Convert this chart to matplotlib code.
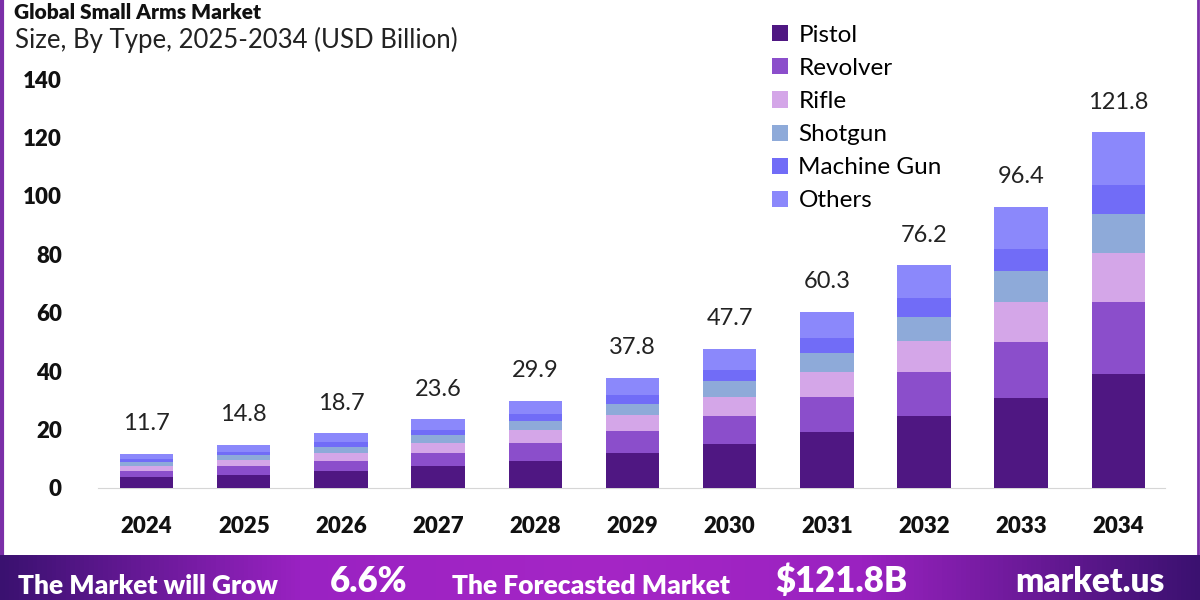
"""Global small arms market: stacked bars by weapon type, 2024-2034."""

import matplotlib

matplotlib.use("Agg")
import matplotlib.pyplot as plt
import numpy as np
from matplotlib.colors import LinearSegmentedColormap

plt.rcParams["font.family"] = ["Lato", "DejaVu Sans"]

YEARS = ["2024", "2025", "2026", "2027", "2028", "2029", "2030", "2031", "2032", "2033", "2034"]
TOTALS = [11.7, 14.8, 18.7, 23.6, 29.9, 37.8, 47.7, 60.3, 76.2, 96.4, 121.8]

PISTOL = [3.6, 4.6, 5.8, 7.4, 9.4, 11.9, 15.2, 19.2, 24.6, 30.9, 39.1]
REVOLVER = [2.3, 2.9, 3.6, 4.7, 6.0, 7.6, 9.6, 12.1, 15.2, 19.2, 24.6]
RIFLE = [1.6, 2.1, 2.7, 3.3, 4.3, 5.4, 6.5, 8.5, 10.5, 13.6, 16.9]
SHOTGUN = [1.3, 1.6, 2.0, 2.6, 3.1, 4.0, 5.4, 6.5, 8.4, 10.5, 13.3]
MACHINE_GUN = [1.0, 1.2, 1.6, 2.0, 2.5, 3.1, 3.8, 4.9, 6.2, 7.7, 9.9]
OTHERS = [1.9, 2.4, 3.0, 3.6, 4.6, 5.8, 7.2, 9.1, 11.3, 14.5, 18.0]

SEGMENTS = [
    ("Pistol", PISTOL, "#4f1782"),
    ("Revolver", REVOLVER, "#8b4ecb"),
    ("Rifle", RIFLE, "#d4a6e8"),
    ("Shotgun", SHOTGUN, "#8eaad9"),
    ("Machine Gun", MACHINE_GUN, "#716cf7"),
    ("Others", OTHERS, "#8b88fb"),
]


def main() -> None:
    fig = plt.figure(figsize=(12, 6), dpi=100)
    fig.patch.set_facecolor("white")

    # purple frame around the white card
    frame = fig.add_axes([0, 0, 1, 1], zorder=-5)
    frame.set_xlim(0, 1200)
    frame.set_ylim(600, 0)
    frame.axis("off")
    frame.plot([1.5, 1.5], [0, 556], color="#7b2fa8", lw=3)
    frame.plot([1197.5, 1197.5], [0, 556], color="#7b2fa8", lw=2)

    # gradient banner at the bottom
    cmap = LinearSegmentedColormap.from_list(
        "banner",
        [(0.0, "#3a1170"), (0.25, "#9a22c2"), (0.5, "#a526c6"), (0.72, "#9a22c0"), (1.0, "#3b1170")],
    )
    ban = fig.add_axes([0, 0, 1, 45 / 600])
    ban.imshow(np.linspace(0, 1, 256)[None, :], aspect="auto", cmap=cmap, extent=[0, 1, 0, 1])
    ban.axis("off")

    ax = fig.add_axes([98 / 1200, 112 / 600, 1067 / 1200, 438 / 600])
    x = np.arange(len(YEARS))
    bottom = np.zeros(len(YEARS))
    for name, vals, color in SEGMENTS:
        ax.bar(x, vals, width=0.55, bottom=bottom, color=color, label=name, zorder=3)
        bottom += np.array(vals)

    for xi, tot in zip(x, TOTALS):
        ax.annotate(f"{tot}", (xi, tot), xytext=(0, 14), textcoords="offset points",
                    ha="center", va="bottom", fontsize=17, color="#222222")

    ax.set_xlim(-0.5, 10.48)
    ax.set_ylim(0, 150)
    ax.set_yticks(range(0, 141, 20))
    ax.set_xticks(x)
    ax.set_xticklabels(YEARS)
    ax.tick_params(length=0)
    ax.tick_params(axis="y", pad=26, labelsize=16)
    ax.tick_params(axis="x", pad=20, labelsize=16)
    for lab in ax.get_xticklabels() + ax.get_yticklabels():
        lab.set_fontweight("heavy")
        lab.set_color("#111111")
    for side in ("top", "right", "left"):
        ax.spines[side].set_visible(False)
    ax.spines["bottom"].set_color("#d6d6d6")
    ax.patch.set_alpha(0)

    ax.legend(loc="upper left", bbox_to_anchor=(762 / 1200, 1 - 15 / 600),
              bbox_transform=fig.transFigure, frameon=False, fontsize=17.5,
              handlelength=0.65, handleheight=0.65, handletextpad=0.45,
              labelspacing=0.5, borderaxespad=0)

    fig.text(14 / 1200, 1 - 3 / 600, "Global Small Arms Market", fontsize=15,
             fontweight="heavy", color="#111111", va="top")
    fig.text(15 / 1200, 1 - 40 / 600, "Size, By Type, 2025-2034 (USD Billion)",
             fontsize=18.5, color="#222222", va="center")

    # banner captions
    fig.text(18 / 1200, 6 / 600, "The Market will Grow", fontsize=19,
             fontweight="heavy", color="white", va="baseline")
    fig.text(330 / 1200, 8 / 600, "6.6%", fontsize=25,
             fontweight="heavy", color="white", va="baseline")
    fig.text(452 / 1200, 6 / 600, "The Forecasted Market", fontsize=19,
             fontweight="heavy", color="white", va="baseline")
    fig.text(775 / 1200, 8 / 600, "$121.8B", fontsize=25,
             fontweight="heavy", color="white", va="baseline")
    fig.text(1165 / 1200, 8 / 600, "market.us", fontsize=24,
             fontweight="heavy", color="white", va="baseline", ha="right")

    fig.savefig("out.png", dpi=100)


if __name__ == "__main__":
    main()
